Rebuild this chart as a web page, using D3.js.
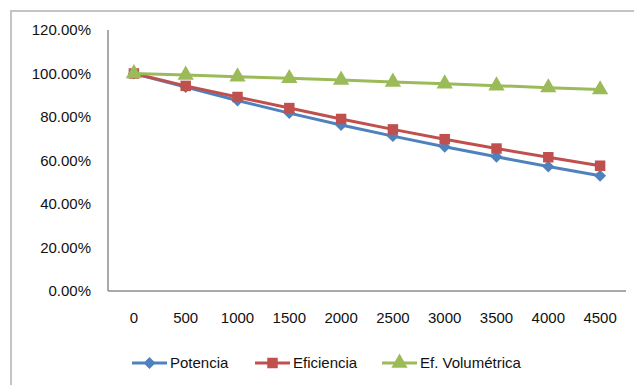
<!DOCTYPE html>
<html>
<head>
<meta charset="utf-8">
<script src="https://cdn.jsdelivr.net/npm/d3@7"></script>
<style>
    body { margin: 0; background: #fff; }
    svg { display: block; font-family: "Liberation Sans", Arial, sans-serif; }
</style>
</head>
<body>
<svg id="svg" width="634" height="385"></svg>
<script>
// rpm steps on the x axis
const categories = ["0", "500", "1000", "1500", "2000", "2500", "3000", "3500", "4000", "4500"];
const potencia = [100, 93.8, 87.6, 81.8, 76.3, 71.2, 66.3, 61.7, 57.2, 53.0];
const eficiencia = [100, 94.3, 89.2, 84.1, 79.1, 74.3, 69.8, 65.5, 61.5, 57.6];
const efVolumetrica = [100, 99.3, 98.5, 97.8, 97.0, 96.1, 95.3, 94.4, 93.5, 92.6];
const yTicks = [0, 20, 40, 60, 80, 100, 120];
const seriesNames = ["Potencia", "Eficiencia", "Ef. Volumétrica"];

draw();

function draw(
    {
        left = 108,
        right = 626,
        top = 30,
        bottom = 291,
        fontSize = 15,
        colors = ["#4F81BD", "#C0504D", "#9BBB59"],
        symbols = [d3.symbolDiamond2, d3.symbolSquare, d3.symbolTriangle],
        symbolSizes = [90, 110, 115]
    } = {}
) {
    const svg = d3.select("#svg");

    // outer chart frame (runs off the right and bottom edges)
    svg.append("path")
        .attr("d", "M11,400 L11,11 L640,11")
        .attr("fill", "none")
        .attr("stroke", "#c4c4c4")
        .attr("stroke-width", 2);

    const x = d3.scaleBand().domain(categories).range([left, right]);
    const y = d3.scaleLinear().domain([0, 120]).range([bottom, top]);

    const series = [potencia, eficiencia, efVolumetrica].map((values, i) => ({
        name: seriesNames[i],
        color: colors[i],
        symbol: symbols[i],
        size: symbolSizes[i],
        points: values.map((v, j) => ({cat: categories[j], value: v}))
    }));

    // y axis labels
    svg.append("g")
        .selectAll("text")
        .data(yTicks)
        .join("text")
        .attr("x", 91)
        .attr("y", d => y(d))
        .attr("dy", "0.35em")
        .attr("text-anchor", "end")
        .attr("font-size", fontSize)
        .attr("fill", "#111")
        .text(d => d.toFixed(2) + "%");

    // x axis labels
    svg.append("g")
        .selectAll("text")
        .data(categories)
        .join("text")
        .attr("x", d => x(d) + x.bandwidth() / 2)
        .attr("y", 318)
        .attr("dy", "0.35em")
        .attr("text-anchor", "middle")
        .attr("font-size", fontSize)
        .attr("fill", "#111")
        .text(d => d);

    // axis lines
    svg.append("line")
        .attr("x1", left).attr("x2", left)
        .attr("y1", top).attr("y2", bottom)
        .attr("stroke", "#8c8c8c")
        .attr("stroke-width", 1.5);
    svg.append("line")
        .attr("x1", left).attr("x2", right)
        .attr("y1", bottom).attr("y2", bottom)
        .attr("stroke", "#8c8c8c")
        .attr("stroke-width", 1.5);

    const line = d3.line()
        .x(d => x(d.cat) + x.bandwidth() / 2)
        .y(d => y(d.value));

    const g = svg.append("g")
        .selectAll("g")
        .data(series)
        .join("g");

    g.append("path")
        .attr("d", d => line(d.points))
        .attr("fill", "none")
        .attr("stroke", d => d.color)
        .attr("stroke-width", 3);

    g.selectAll("path.marker")
        .data(d => d.points.map(p => ({...p, s: d})))
        .join("path")
        .attr("class", "marker")
        .attr("transform", d => `translate(${x(d.cat) + x.bandwidth() / 2},${y(d.value)})`)
        .attr("d", d => d3.symbol(d.s.symbol, d.s.size)())
        .attr("fill", d => d.s.color);

    // legend
    const legendX = [132, 255, 382];
    const legend = svg.append("g")
        .selectAll("g")
        .data(series)
        .join("g")
        .attr("transform", (d, i) => `translate(${legendX[i]}, 363)`);

    legend.append("line")
        .attr("x1", 0).attr("x2", 35)
        .attr("stroke", d => d.color)
        .attr("stroke-width", 3);

    legend.append("path")
        .attr("transform", "translate(17.5,0)")
        .attr("d", d => d3.symbol(d.symbol, d.size)())
        .attr("fill", d => d.color);

    legend.append("text")
        .attr("x", 38)
        .attr("dy", "0.35em")
        .attr("font-size", fontSize)
        .attr("fill", "#111")
        .text(d => d.name);
}
</script>
</body>
</html>
